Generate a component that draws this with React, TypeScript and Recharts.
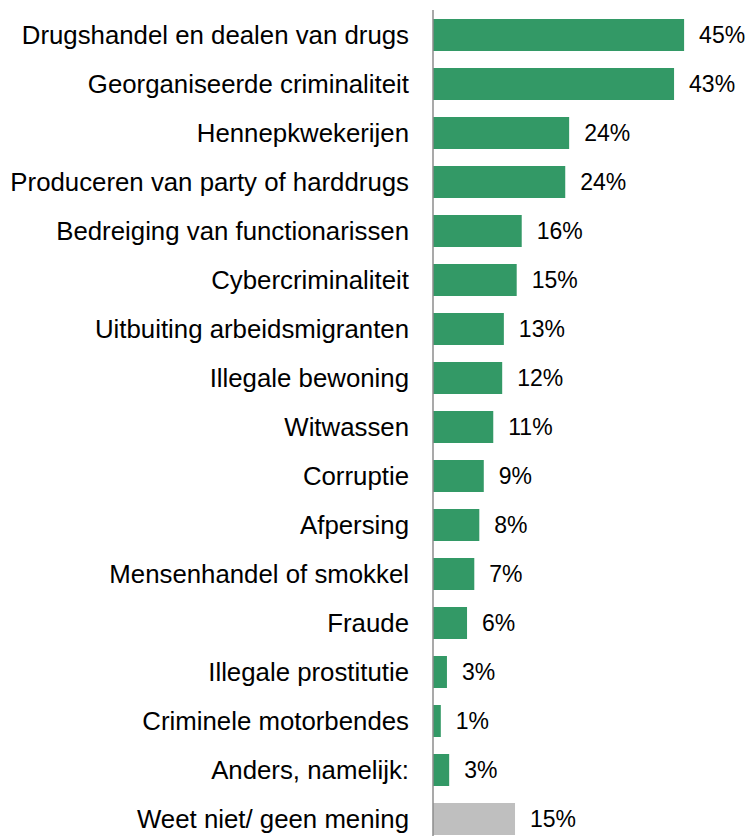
import { Bar, BarChart, Cell, LabelList, XAxis, YAxis } from "recharts";

const categories = [
  "Drugshandel en dealen van drugs",
  "Georganiseerde criminaliteit",
  "Hennepkwekerijen",
  "Produceren van party of harddrugs",
  "Bedreiging van functionarissen",
  "Cybercriminaliteit",
  "Uitbuiting arbeidsmigranten",
  "Illegale bewoning",
  "Witwassen",
  "Corruptie",
  "Afpersing",
  "Mensenhandel of smokkel",
  "Fraude",
  "Illegale prostitutie",
  "Criminele motorbendes",
  "Anders, namelijk:",
  "Weet niet/ geen mening",
];

const values = [45, 43.2, 24.4, 23.7, 15.9, 15.0, 12.7, 12.4, 10.8, 9.1, 8.3, 7.4, 6.1, 2.5, 1.4, 2.9, 14.7];

const data = categories.map((name, i) => ({ name, value: values[i] }));

const GREEN = "#339966";
const GREY = "#BFBFBF";
const FONT = "'Liberation Sans', Arial, sans-serif";

export default function App() {
  return (
    <div
      style={{
        position: "fixed",
        left: 0,
        top: 0,
        width: 747,
        height: 836,
        overflow: "hidden",
        background: "#fff",
      }}
    >
      <BarChart
        width={747}
        height={845}
        data={data}
        layout="vertical"
        margin={{ top: 10, right: 35, left: 0, bottom: 2 }}
        barSize={32}
      >
        <XAxis type="number" domain={[0, 50]} hide />
        <YAxis
          type="category"
          dataKey="name"
          width={433}
          tickLine={false}
          tickSize={22}
          tickMargin={2}
          axisLine={{ stroke: "#8c8c8c", strokeWidth: 1.5 }}
          tick={{ fill: "#000", fontSize: 25.8, fontFamily: FONT }}
          interval={0}
        />
        <Bar dataKey="value" isAnimationActive={false}>
          {data.map((d, i) => (
            <Cell key={d.name} fill={i === data.length - 1 ? GREY : GREEN} />
          ))}
          <LabelList
            dataKey="value"
            position="right"
            offset={15}
            formatter={(v: number) => `${Math.round(v)}%`}
            style={{ fill: "#000", fontSize: 23, fontFamily: FONT }}
          />
        </Bar>
      </BarChart>
    </div>
  );
}
